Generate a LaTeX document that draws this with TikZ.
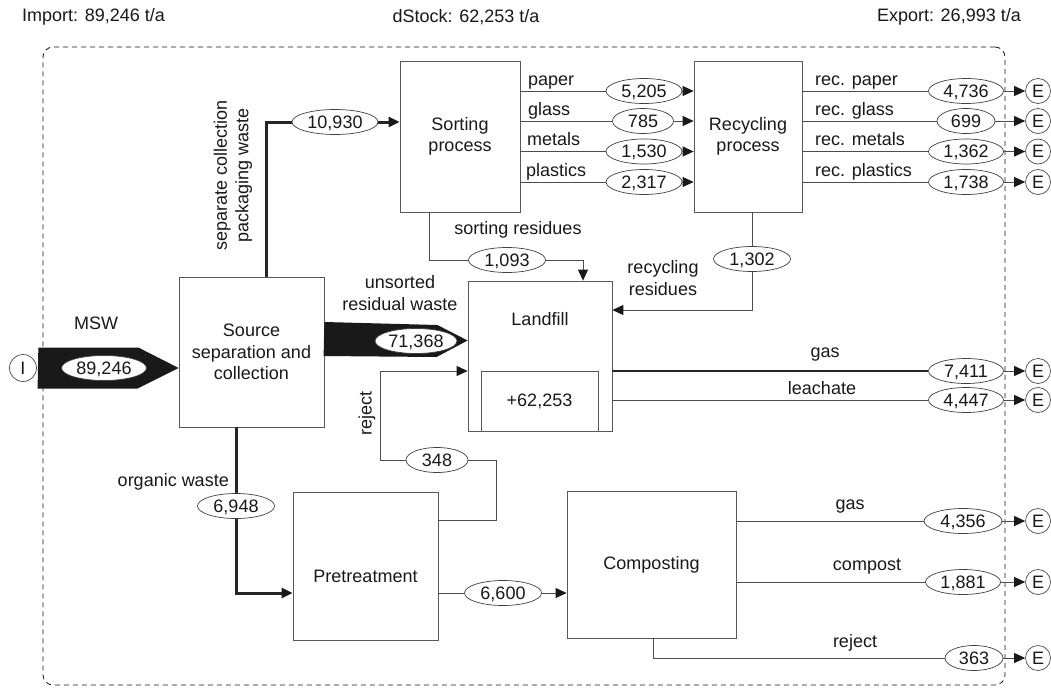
\documentclass[tikz,border=0pt]{standalone}
\usepackage{fontspec}
\setmainfont{Liberation Sans}
\usetikzlibrary{arrows.meta,shapes.geometric,calc}
\newcommand{\numv}[1]{\makebox[0pt]{#1}}
\begin{document}
\begin{tikzpicture}[x=1pt,y=-1pt,
 every node/.style={font=\fontsize{18}{21.5}\selectfont, inner sep=0pt, text=black!90},
 box/.style={draw=black!65, line width=0.8pt, fill=white, align=center},
 num/.style={ellipse, draw=black!75, line width=0.7pt, fill=white, minimum width=#1, minimum height=25pt, text height=12.9pt, text depth=0pt},
 num/.default=77pt,
 ecirc/.style={circle, draw=black!70, line width=0.7pt, fill=white, minimum size=25pt, text height=12.9pt, text depth=0pt},
 conn/.style={draw=black!70, line width=0.9pt},
 tipa/.style={-{Triangle[length=11pt,width=10pt,color=black!90]}},
 arr/.style={conn, tipa},
 thickc/.style={draw=black!85, line width=3pt},
 lbl/.style={anchor=base west},
]
\useasboundingbox (0,0) rectangle (1051,688);
\fill[white] (0,0) rectangle (1051,688);

% system boundary
\node[draw=black!90, dash pattern=on 5pt off 4pt, line width=0.8pt, rounded corners=10pt, minimum width=962pt, minimum height=638pt] (sys) at (524,366) {};

% header
\node[anchor=west] (himp) at (22,17) {Import: 89,246 t/a};
\node (hds) at (466,17) {dStock: 62,253 t/a};
\node[anchor=east] (hexp) at (1021,17) {Export: 26,993 t/a};

% processes
\node[box, minimum width=145pt, minimum height=150pt] (src) at (251.5,352) {Source\\separation and\\collection};
\node[box, minimum width=120pt, minimum height=151pt] (sort) at (460,136.5) {Sorting\\process};
\node[box, minimum width=108pt, minimum height=151pt] (recy) at (748,136.5) {Recycling\\process};
\node[box, minimum width=144pt, minimum height=150pt] (land) at (540,356) {};
\node[box, minimum width=117pt, minimum height=60pt] (stock) at (539.5,401) {+62,253};
\node (landtxt) at (540,319) {Landfill};
\node[box, minimum width=145pt, minimum height=148pt] (pre) at (365.5,566) {};
\node (pretxt) at (365.5,576) {Pretreatment};
\node[box, minimum width=169pt, minimum height=147pt] (comp) at (651.5,564.5) {Composting};

% import
\node[ecirc, minimum size=27pt] (iin) at (23,368) {I};
\fill[black!90] ([xshift=1.5pt,yshift=20.5pt]iin.east) -- ++(100,0) -- (src.west |- iin) -- ++(-41,20.5) -- ++(-100,0) -- cycle;
\node[num=85pt] (n89246) at (104,368) {\numv{89,246}};
\node (msw) at (96,323) {MSW};

% unsorted residual waste
\coordinate (uwtip) at ([yshift=15.5pt]land.west);
\fill[black!90] (uwtip -| src.east) ++(0,-18.5) -- ++(113,3) -- (uwtip) -- ++(-31,16.5) -- ++(-113,-1) -- cycle;
\node[num=82pt] (n71368) at (416,341) {\numv{71,368}};
\node[align=center] (uwlbl) at (400,293) {unsorted\\residual waste};

% separate collection
\node[num=86pt] (n10930) at (335,122) {\numv{10,930}};
\draw[thickc] ([xshift=14.5pt]src.north) |- (n10930);
\draw[thickc, tipa] (n10930) -- (n10930 -| sort.west);
\node[rotate=90, align=center] (sclbl) at (233,175) {separate collection\\packaging waste};

% sorting -> recycling
\node[num=76pt] (n5205) at (644,91) {\numv{5,205}};
\node[num=61pt] (n785) at (643,121) {\numv{785}};
\node[num=76pt] (n1530) at (644,151.5) {\numv{1,530}};
\node[num=76pt] (n2317) at (644,182) {\numv{2,317}};
\draw[conn] (n5205 -| sort.east) -- (n5205);
\draw[arr] (n5205) -- (n5205 -| recy.west);
\draw[conn] (n785 -| sort.east) -- (n785);
\draw[arr] (n785) -- (n785 -| recy.west);
\draw[conn] (n1530 -| sort.east) -- (n1530);
\draw[arr] (n1530) -- (n1530 -| recy.west);
\draw[conn] (n2317 -| sort.east) -- (n2317);
\draw[arr] (n2317) -- (n2317 -| recy.west);
\node[lbl] (lpaper) at (528,85) {paper};
\node[lbl] (lglass) at (528,115) {glass};
\node[lbl] (lmetals) at (527,145.5) {metals};
\node[lbl] (lplast) at (526,176) {plastics};

% recycling -> export
\node[num=75pt] (n4736) at (966,91) {\numv{4,736}};
\node[num=58pt] (n699) at (966,121) {\numv{699}};
\node[num=75pt] (n1362) at (966,151.5) {\numv{1,362}};
\node[num=75pt] (n1738) at (966,182) {\numv{1,738}};
\node[ecirc] (e1) at (1038,91) {E};
\node[ecirc] (e2) at (1038,121) {E};
\node[ecirc] (e3) at (1038,151.5) {E};
\node[ecirc] (e4) at (1038,182) {E};
\draw[conn] (n4736 -| recy.east) -- (n4736);
\draw[arr] (n4736) -- (e1);
\draw[conn] (n699 -| recy.east) -- (n699);
\draw[arr] (n699) -- (e2);
\draw[conn] (n1362 -| recy.east) -- (n1362);
\draw[arr] (n1362) -- (e3);
\draw[conn] (n1738 -| recy.east) -- (n1738);
\draw[arr] (n1738) -- (e4);
\node[lbl] (lrpaper) at (815,85) {rec. paper};
\node[lbl] (lrglass) at (815,115) {rec. glass};
\node[lbl] (lrmetals) at (815,145.5) {rec. metals};
\node[lbl] (lrplast) at (815,176) {rec. plastics};

% residues
\node[num] (n1093) at (507,260) {\numv{1,093}};
\draw[conn] ([xshift=-31pt]sort.south) |- (n1093);
\draw[arr] (n1093) -| ([xshift=43pt]land.north);
\node (srlbl) at (518,230) {sorting residues};
\node[num] (n1302) at (752,259) {\numv{1,302}};
\draw[conn] ([xshift=4pt]recy.south) -- (n1302);
\draw[arr] (n1302) |- ([yshift=46pt]land.east);
\node[align=center] (rrlbl) at (663,278) {recycling\\residues};

% landfill outputs
\node[num=75pt] (n7411) at (966,371) {\numv{7,411}};
\node[num=75pt] (n4447) at (966,400) {\numv{4,447}};
\node[ecirc] (e5) at (1038,371) {E};
\node[ecirc] (e6) at (1038,400) {E};
\draw[draw=black!85, line width=2.5pt] ([yshift=-15pt]land.east) -- (n7411);
\draw[arr] (n7411) -- (e5);
\draw[conn] ([yshift=-44pt]land.east) -- (n4447);
\draw[arr] (n4447) -- (e6);
\node (lgas) at (825,355) {gas};
\node (lleach) at (822,388) {leachate};

% organic waste
\node[num] (n6948) at (236,506) {\numv{6,948}};
\draw[thickc] ([xshift=-15.5pt]src.south) -- (n6948);
\draw[thickc, tipa] (n6948) |- ([yshift=-27pt]pre.west);
\node[anchor=east] (owlbl) at (229,482) {organic waste};

% reject pretreatment -> landfill
\node[num=62pt] (n348) at (437,460) {\numv{348}};
\draw[conn] ([yshift=46pt]pre.east) -| ([xshift=59pt]n348.center) -- (n348);
\coordinate (rjc) at (380,460);
\draw[arr] (n348) -- (rjc) |- ([yshift=-15pt]land.west);
\node[rotate=90] (rjlbl) at (367,413) {reject};

% pretreatment -> composting
\node[num] (n6600) at (503,593) {\numv{6,600}};
\draw[conn] (n6600 -| pre.east) -- (n6600);
\draw[arr] (n6600) -- (n6600 -| comp.west);

% composting outputs
\node[num=78pt] (n4356) at (963,521) {\numv{4,356}};
\node[num=75pt] (n1881) at (963,582) {\numv{1,881}};
\node[num=58pt] (n363) at (974,658) {\numv{363}};
\node[ecirc] (e7) at (1038,521) {E};
\node[ecirc] (e8) at (1038,582) {E};
\node[ecirc] (e9) at (1038,658) {E};
\draw[conn] (n4356 -| comp.east) -- (n4356);
\draw[arr] (n4356) -- (e7);
\draw[conn] (n1881 -| comp.east) -- (n1881);
\draw[arr] (n1881) -- (e8);
\draw[conn] ([xshift=1.5pt]comp.south) |- (n363);
\draw[arr] (n363) -- (e9);
\node (lcgas) at (850,507) {gas};
\node (lcomp) at (867,567) {compost};
\node (lcrej) at (855,643) {reject};
\end{tikzpicture}
\end{document}
